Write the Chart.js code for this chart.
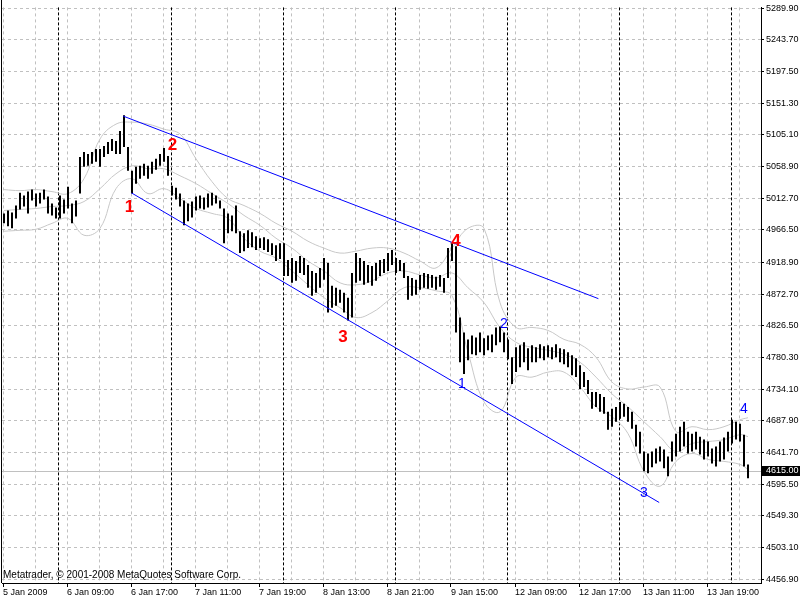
<!DOCTYPE html>
<html><head><meta charset="utf-8">
<script src="https://cdn.jsdelivr.net/npm/chart.js@4.4.1/dist/chart.umd.min.js"></script>
<style>html,body{margin:0;padding:0;background:#fff;}canvas{display:block;}</style>
</head><body>
<canvas id="c" width="800" height="600"></canvas>
<script>
// ---- data (30-minute bars, index 0 = 5 Jan 2009 15:00) ----
const high = [
4990.5,4994.8,4991.9,5002.0,5020.8,5016.5,5022.3,5025.2,5019.4,5020.8,
5025.2,5015.1,5004.9,4999.2,5016.5,5010.7,5029.5,5004.9,5009.3,5072.9,
5080.2,5077.3,5080.2,5084.5,5084.5,5088.9,5094.6,5099.0,5096.1,5110.6,
5133.7,5087.4,5052.7,5058.5,5059.9,5062.8,5059.9,5065.7,5070.1,5077.3,
5086.0,5074.4,5031.0,5028.1,5019.4,5009.3,5004.9,5007.8,5015.1,5016.5,
5013.6,5019.4,5020.8,5016.5,5009.3,4997.7,4990.5,4987.6,5002.0,4964.5,
4961.6,4965.9,4963.0,4957.2,4954.3,4955.8,4952.9,4947.1,4944.2,4947.1,
4947.1,4922.5,4925.4,4921.1,4928.3,4925.4,4915.3,4906.6,4903.7,4911.0,
4925.4,4918.2,4884.9,4882.1,4879.2,4874.8,4867.6,4903.7,4932.7,4925.4,
4921.1,4915.3,4913.9,4918.2,4922.5,4924.0,4932.7,4937.0,4925.4,4922.5,
4918.2,4899.4,4896.5,4893.6,4900.8,4903.7,4902.3,4900.8,4898.0,4900.8,
4896.5,4939.9,4947.1,4942.8,4838.7,4817.0,4806.8,4812.6,4809.7,4817.0,
4808.3,4812.6,4814.1,4824.2,4825.6,4817.0,4806.8,4780.8,4795.2,4798.1,
4802.5,4793.8,4798.1,4795.2,4799.6,4796.7,4798.1,4795.2,4799.6,4793.8,
4792.3,4788.0,4783.6,4779.3,4769.2,4759.1,4747.5,4730.2,4730.2,4727.3,
4722.9,4701.2,4705.5,4708.4,4715.7,4712.8,4708.4,4701.2,4682.4,4672.3,
4643.3,4640.4,4643.3,4647.7,4650.6,4646.2,4636.1,4657.8,4669.4,4679.5,
4686.7,4672.3,4669.4,4672.3,4665.0,4660.7,4657.8,4647.7,4650.6,4657.8,
4663.6,4672.3,4689.6,4686.7,4683.8,4667.9,4624.5
];
const low = [
4976.0,4971.7,4968.8,4983.2,4996.3,5000.6,4990.5,5009.3,5000.6,5004.9,
5010.7,4990.5,4987.6,4983.2,4983.2,4990.5,4997.7,4976.0,4986.1,5019.4,
5058.5,5059.9,5062.8,5065.7,5058.5,5072.9,5077.3,5081.6,5077.3,5077.3,
5087.4,5052.7,5019.4,5033.9,5041.1,5045.4,5041.1,5048.3,5054.1,5059.9,
5065.7,5045.4,5016.5,5010.7,5000.6,4973.1,4978.9,4984.7,4994.8,4997.7,
4996.3,4999.2,5002.0,5004.9,4997.7,4947.1,4961.6,4964.5,4961.6,4932.7,
4935.5,4939.9,4941.3,4937.0,4939.9,4937.0,4934.1,4929.8,4921.1,4924.0,
4899.4,4899.4,4889.3,4892.2,4903.7,4900.8,4882.1,4870.5,4874.8,4882.1,
4893.6,4845.9,4853.1,4856.0,4860.4,4845.9,4834.3,4838.7,4889.3,4892.2,
4886.4,4889.3,4884.9,4892.2,4899.4,4903.7,4906.6,4915.3,4903.7,4906.6,
4896.5,4864.7,4870.5,4871.9,4879.2,4882.1,4880.6,4882.1,4879.2,4883.5,
4874.8,4896.5,4921.1,4817.0,4773.5,4756.2,4776.4,4785.1,4783.6,4788.0,
4783.6,4790.9,4788.0,4798.1,4802.5,4788.0,4777.9,4741.7,4759.1,4766.3,
4773.5,4761.9,4773.5,4773.5,4779.3,4776.4,4780.8,4777.9,4780.8,4773.5,
4770.6,4766.3,4754.7,4751.8,4734.5,4737.4,4727.3,4705.5,4708.4,4701.2,
4698.3,4675.1,4679.5,4686.7,4691.0,4693.9,4686.7,4676.6,4650.6,4640.4,
4614.4,4611.5,4620.2,4626.0,4628.9,4618.8,4607.2,4628.9,4636.1,4643.3,
4650.6,4640.4,4643.3,4646.2,4639.0,4631.8,4636.1,4626.0,4621.6,4628.9,
4631.8,4643.3,4654.9,4660.7,4657.8,4621.6,4604.3
];
// Bollinger bands read at every 4th bar
const bandIdx = [0,4,8,12,16,20,24,28,32,36,40,44,48,52,56,60,64,68,72,76,80,84,88,92,96,100,104,108,112,116,120,124,128,132,136,140,144,148,152,156,160,164,168,172,176,180,184,186];
const bandUpper = [5025.2,5023.7,5025.2,5022.3,5019.4,5041.1,5099.0,5120.7,5123.6,5120.7,5113.4,5106.2,5070.1,5036.8,5012.2,5002.0,4990.5,4976.0,4964.5,4950.0,4939.9,4932.7,4935.5,4939.9,4939.9,4932.7,4921.1,4911.0,4939.9,4968.8,4968.8,4860.4,4824.2,4824.2,4819.9,4806.8,4799.6,4780.8,4744.6,4734.5,4737.4,4737.4,4672.3,4679.5,4675.2,4679.5,4689.6,4692.6];
const bandMiddle = [4994.8,4996.3,4997.7,5000.6,5002.0,5007.8,5026.6,5048.3,5059.9,5055.6,5055.6,5045.4,5033.9,5019.4,5004.9,4987.6,4973.1,4954.3,4939.9,4921.1,4906.6,4889.3,4886.4,4892.2,4903.7,4906.6,4900.8,4896.5,4903.7,4882.1,4860.4,4824.2,4802.5,4795.2,4790.9,4785.1,4773.5,4751.8,4727.3,4708.4,4686.7,4665.0,4643.3,4655.0,4657.8,4660.7,4667.9,4665.0];
const bandLower = [4964.5,4965.9,4967.4,4976.0,4983.2,4958.7,4968.8,5026.6,5041.1,5019.4,5026.6,5012.2,4997.7,4990.5,4983.2,4954.3,4935.5,4925.4,4906.6,4886.4,4867.6,4853.1,4838.7,4845.9,4863.2,4882.1,4882.1,4877.7,4870.5,4788.0,4715.7,4701.2,4751.8,4751.8,4759.1,4759.1,4737.4,4708.4,4694.0,4669.4,4614.4,4592.7,4628.9,4640.4,4631.8,4628.9,4624.5,4617.3];
// trend channel endpoints (bar index, price)
const upperChannelIdx = [29.8, 148.6];
const upperChannelPrice = [5132.4, 4866.2];
const lowerChannelIdx = [31.9, 163.8];
const lowerChannelPrice = [5020.3, 4569.0];
// wave labels
const redWaveText = ['1','2','3','4'];
const redWaveIdx = [31.4, 42.1, 84.75, 113];
const redWavePrice = [4999.1, 5089.4, 4809.9, 4950.0];
const blueWaveText = ['1','2','3','4'];
const blueWaveIdx = [114.5, 125, 160, 185];
const blueWavePrice = [4742.0, 4828.6, 4583.1, 4704.4];
// axes
const yTickVals = [5289.9,5243.7,5197.5,5151.3,5105.1,5058.9,5012.7,4966.5,4918.9,4872.7,4826.5,4780.3,4734.1,4687.9,4641.7,4595.5,4549.3,4503.1,4456.9];
const yTickLabels = ['5289.90','5243.70','5197.50','5151.30','5105.10','5058.90','5012.70','4966.50','4918.90','4872.70','4826.50','4780.30','4734.10','4687.90','4641.70','4595.50','4549.30','4503.10','4456.90'];
const xGridIdx = [-0.25,7.75,15.75,23.75,31.75,39.75,47.75,55.75,63.75,71.75,79.75,87.75,95.75,103.75,111.75,119.75,127.75,135.75,143.75,151.75,159.75,167.75,175.75,183.75];
const xTickLabels = ['5 Jan 2009','6 Jan 09:00','6 Jan 17:00','7 Jan 11:00','7 Jan 19:00','8 Jan 13:00','8 Jan 21:00','9 Jan 15:00','12 Jan 09:00','12 Jan 17:00','13 Jan 11:00','13 Jan 19:00'];
const separatorIdx = [14,42,70,98,126,154,182];
const currentPrice = 4615.00;
const currentPriceLabel = '4615.00';
const copyrightText = 'Metatrader, \u00a9 2001-2008 MetaQuotes Software Corp.';

const FONT = 'Liberation Sans';

const overlay = {
  id: 'overlay',
  beforeDatasetsDraw(chart) {
    const {ctx, chartArea: a, scales: {x, y}} = chart;
    ctx.save();
    ctx.lineWidth = 1;
    ctx.strokeStyle = '#000';
    ctx.setLineDash([3, 2]);
    separatorIdx.forEach(i => {
      const px = Math.floor(x.getPixelForValue(i)) - 0.5;
      ctx.beginPath(); ctx.moveTo(px, a.top); ctx.lineTo(px, a.bottom); ctx.stroke();
    });
    ctx.setLineDash([]);
    ctx.strokeStyle = '#c0c0c0';
    const py = Math.round(y.getPixelForValue(currentPrice)) + 0.5;
    ctx.beginPath(); ctx.moveTo(a.left, py); ctx.lineTo(a.right, py); ctx.stroke();
    // left border
    ctx.strokeStyle = '#000';
    ctx.beginPath(); ctx.moveTo(1.5, 0); ctx.lineTo(1.5, a.bottom); ctx.stroke();
    ctx.restore();
  },
  afterDatasetsDraw(chart) {
    const {ctx, scales: {x, y}} = chart;
    ctx.save();
    ctx.textAlign = 'center';
    ctx.textBaseline = 'middle';
    ctx.fillStyle = '#ff0000';
    ctx.font = 'bold 17px ' + FONT;
    redWaveText.forEach((t, k) => ctx.fillText(t, x.getPixelForValue(redWaveIdx[k]), y.getPixelForValue(redWavePrice[k])));
    ctx.fillStyle = '#0000ff';
    ctx.font = '14px ' + FONT;
    blueWaveText.forEach((t, k) => ctx.fillText(t, x.getPixelForValue(blueWaveIdx[k]), y.getPixelForValue(blueWavePrice[k])));
    ctx.fillStyle = '#000';
    ctx.textAlign = 'left';
    ctx.textBaseline = 'alphabetic';
    ctx.font = '10px ' + FONT;
    ctx.fillText(copyrightText, 3, 578);
    ctx.restore();
  },
  afterDraw(chart) {
    const {ctx, chartArea: a, scales: {y}} = chart;
    const py = Math.round(y.getPixelForValue(currentPrice));
    ctx.save();
    ctx.fillStyle = '#000';
    ctx.fillRect(a.right + 1, py - 5, 800 - a.right - 1, 10);
    ctx.fillStyle = '#fff';
    ctx.font = '9px ' + FONT;
    ctx.textAlign = 'left';
    ctx.textBaseline = 'middle';
    ctx.fillText(currentPriceLabel, a.right + 5, py);
    ctx.restore();
  }
};

new Chart(document.getElementById('c'), {
  type: 'bar',
  data: {
    datasets: [
      { type: 'line', data: upperChannelIdx.map((v, k) => ({x: v, y: upperChannelPrice[k]})), borderColor: '#0000ff', borderWidth: 1, pointRadius: 0, tension: 0 },
      { type: 'line', data: lowerChannelIdx.map((v, k) => ({x: v, y: lowerChannelPrice[k]})), borderColor: '#0000ff', borderWidth: 1, pointRadius: 0, tension: 0 },
      { type: 'bar', data: high.map((h, i) => ({x: i, y: [low[i], h]})), backgroundColor: '#000', borderWidth: 0, barThickness: 2, inflateAmount: 0 },
      { type: 'line', data: bandIdx.map((v, k) => ({x: v, y: bandUpper[k]})), borderColor: '#c8c8c8', borderWidth: 1, pointRadius: 0, tension: 0.4 },
      { type: 'line', data: bandIdx.map((v, k) => ({x: v, y: bandMiddle[k]})), borderColor: '#c8c8c8', borderWidth: 1, pointRadius: 0, tension: 0.4 },
      { type: 'line', data: bandIdx.map((v, k) => ({x: v, y: bandLower[k]})), borderColor: '#c8c8c8', borderWidth: 1, pointRadius: 0, tension: 0.4 }
    ]
  },
  options: {
    responsive: false,
    animation: false,
    devicePixelRatio: 1,
    layout: { padding: { left: 2, top: 2, right: 0, bottom: 0 } },
    plugins: { legend: { display: false }, tooltip: { enabled: false } },
    scales: {
      x: {
        type: 'linear', min: -0.5, max: 189.25, offset: false,
        afterBuildTicks: s => { s.ticks = xGridIdx.map(v => ({value: v})); },
        afterFit: s => { s.height = 17; },
        grid: { offset: false, color: '#c0c0c0', lineWidth: 1, tickLength: 4,
                tickColor: c => (c.index % 2 === 0 ? '#000' : 'rgba(0,0,0,0)') },
        border: { display: true, color: '#000', width: 1, dash: [3, 3] },
        ticks: { autoSkip: false, maxRotation: 0, minRotation: 0, align: 'start', padding: 0,
                 color: '#000', font: { family: FONT, size: 9 },
                 callback: (v, i) => (i % 2 === 0 ? xTickLabels[i / 2] : '') }
      },
      y: {
        type: 'linear', position: 'right', min: 4451.6, max: 5290.9,
        afterBuildTicks: s => { s.ticks = yTickVals.map(v => ({value: v})); },
        afterFit: s => { s.width = 39; },
        grid: { color: '#c0c0c0', lineWidth: 1, tickLength: 3, tickColor: '#000' },
        border: { display: true, color: '#000', width: 1, dash: [3, 3] },
        ticks: { autoSkip: false, padding: 2, color: '#000', font: { family: FONT, size: 9 },
                 callback: (v, i) => yTickLabels[i] }
      }
    }
  },
  plugins: [overlay]
});
</script>
</body></html>
